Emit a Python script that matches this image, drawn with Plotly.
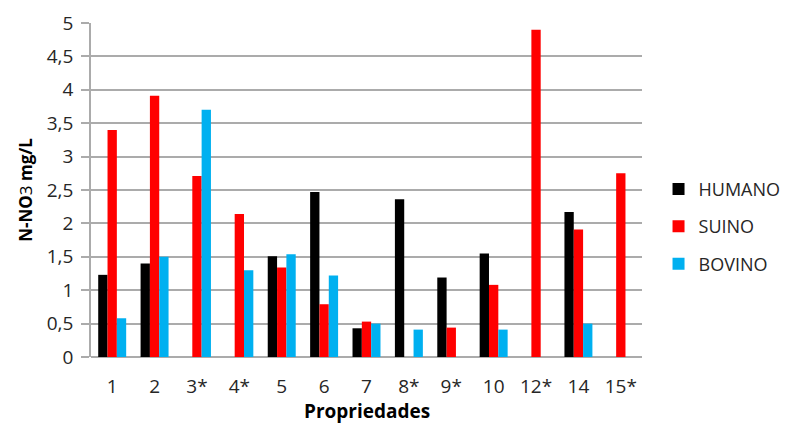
import plotly.graph_objects as go

categories = ["1", "2", "3*", "4*", "5", "6", "7", "8*", "9*", "10", "12*", "14", "15*"]
humano = [1.23, 1.40, None, None, 1.51, 2.47, 0.43, 2.36, 1.19, 1.55, None, 2.17, None]
suino = [3.40, 3.91, 2.71, 2.14, 1.34, 0.79, 0.53, None, 0.44, 1.08, 4.90, 1.91, 2.75]
bovino = [0.58, 1.50, 3.70, 1.30, 1.54, 1.22, 0.50, 0.41, None, 0.41, None, 0.50, None]

series = [("HUMANO", humano, "#000000"), ("SUINO", suino, "#FF0000"), ("BOVINO", bovino, "#00B0F0")]

fig = go.Figure()
for i, (name, vals, col) in enumerate(series):
    fig.add_trace(go.Bar(x=categories, y=vals, name=name, marker=dict(color=col, line=dict(width=0)),
                         legendgroup=name))

font_family = "Open Sans, Liberation Sans, sans-serif"
fig.update_layout(
    width=792, height=423,
    margin=dict(l=83, r=158, t=15, b=74, autoexpand=False),
    paper_bgcolor="white", plot_bgcolor="white",
    barmode="group", bargap=0.34, bargroupgap=0,
    separators=",.",
    font=dict(family=font_family, size=19, color="#262626"),
    showlegend=True,
    legend=dict(x=1.03, xanchor="left", y=0.39, yanchor="middle",
                font=dict(size=18, color="#262626"),
                traceorder="grouped", tracegroupgap=11,
                bgcolor="rgba(0,0,0,0)"),
    xaxis=dict(
        automargin=False,
        showgrid=False, showline=False, ticks="",
        tickfont=dict(size=19, color="#262626"),
        ticklabelstandoff=16,
    ),
    yaxis=dict(
        automargin=False,
        range=[0, 5], dtick=0.5, tick0=0,
        showgrid=True, gridcolor="#ABABAB", gridwidth=1.6,
        showline=True, linecolor="#ABABAB", linewidth=1.6,
        zeroline=True, zerolinecolor="#ABABAB", zerolinewidth=1.6,
        ticks="outside", ticklen=8, tickcolor="#ABABAB", tickwidth=1.6,
        tickfont=dict(size=19, color="#262626"),
        ticklabelstandoff=4,
        title=dict(text="<b>N-NO</b>3<b> mg/L</b>", font=dict(size=17, color="#000000"), standoff=10),
    ),
    annotations=[dict(text="<b>Propriedades</b>", xref="paper", yref="paper", x=0.5, y=-0.206,
                      xanchor="center", yanchor="bottom", showarrow=False,
                      font=dict(size=19, color="#000000"))],
)

fig.write_html("out.html")
